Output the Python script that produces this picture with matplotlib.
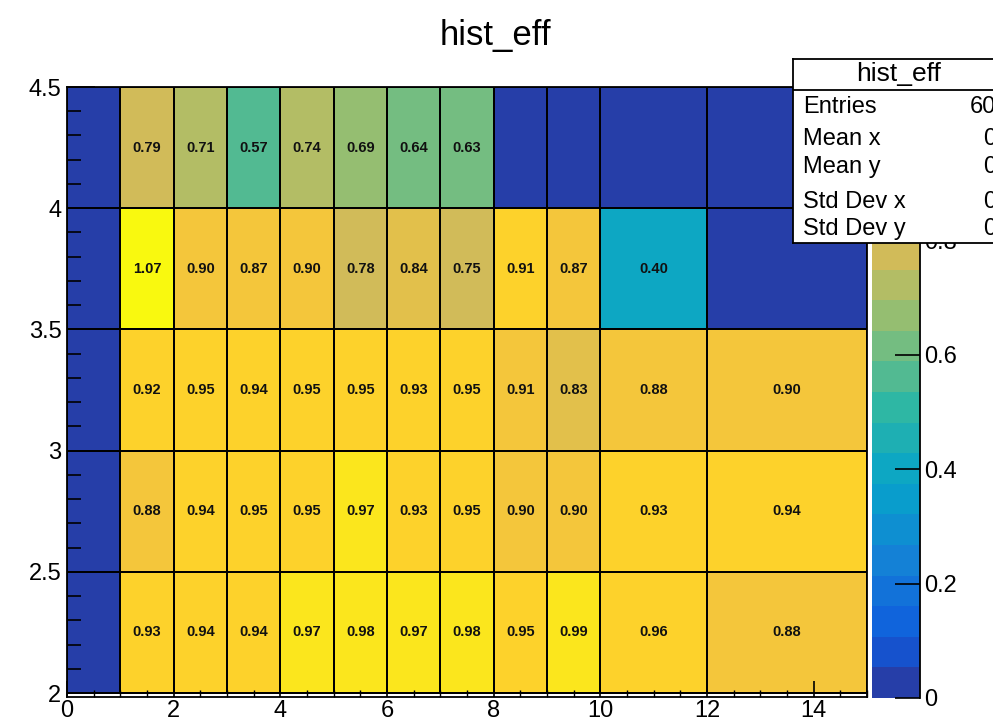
import numpy as np
import matplotlib
matplotlib.use("Agg")
import matplotlib.pyplot as plt
from matplotlib.colors import ListedColormap, BoundaryNorm
from matplotlib.ticker import MultipleLocator, FixedLocator

plt.rcParams['font.family'] = ['Liberation Sans', 'DejaVu Sans']

# ---- histogram contents -------------------------------------------------
x_edges = [0, 1, 2, 3, 4, 5, 6, 7, 8, 9, 10, 12, 15]
y_edges = [2.0, 2.5, 3.0, 3.5, 4.0, 4.5]

row_2p0 = [0, 0.93, 0.94, 0.94, 0.97, 0.98, 0.97, 0.98, 0.95, 0.99, 0.96, 0.88]
row_2p5 = [0, 0.88, 0.94, 0.95, 0.95, 0.97, 0.93, 0.95, 0.90, 0.90, 0.93, 0.94]
row_3p0 = [0, 0.92, 0.95, 0.94, 0.95, 0.95, 0.93, 0.95, 0.906, 0.83, 0.88, 0.90]
row_3p5 = [0, 1.07, 0.90, 0.87, 0.90, 0.78, 0.84, 0.75, 0.913, 0.87, 0.40, 0]
row_4p0 = [0, 0.79, 0.71, 0.57, 0.74, 0.69, 0.64, 0.63, 0, 0, 0, 0]

x_ticks = [0, 2, 4, 6, 8, 10, 12, 14]
y_ticks = [2, 2.5, 3, 3.5, 4, 4.5]
z_ticks = [0, 0.2, 0.4, 0.6, 0.8, 1.0]

stats_title = "hist_eff"
stats_names = ["Entries", "Mean x", "Mean y", "Std Dev x", "Std Dev y"]
stats_values = ["60", "0", "0", "0", "0"]

z = np.array([row_2p0, row_2p5, row_3p0, row_3p5, row_4p0])

# ---- ROOT "bird" palette, 255 colours, 20 contour levels -----------------
stops = [0.0000, 0.1250, 0.2500, 0.3750, 0.5000, 0.6250, 0.7500, 0.8750, 1.0000]
red = [0.2082, 0.0592, 0.0780, 0.0232, 0.1802, 0.5301, 0.8186, 0.9956, 0.9764]
green = [0.1664, 0.3599, 0.5041, 0.6419, 0.7178, 0.7492, 0.7328, 0.7862, 0.9832]
blue = [0.5293, 0.8684, 0.8385, 0.7914, 0.6425, 0.4662, 0.3499, 0.1968, 0.0539]

ncol = 255
palette = []
for i in range(1, len(stops)):
    n = int(np.floor(ncol * stops[i]) - np.floor(ncol * stops[i - 1]))
    for c in range(n):
        f = c / n
        palette.append((red[i - 1] + f * (red[i] - red[i - 1]),
                        green[i - 1] + f * (green[i] - green[i - 1]),
                        blue[i - 1] + f * (blue[i] - blue[i - 1])))

ndiv = 20
level_colors = [palette[min(int((k + 0.99) * ncol / ndiv), ncol - 1)] for k in range(ndiv)]
zmax = z.max()
cmap = ListedColormap(level_colors)
norm = BoundaryNorm(np.linspace(0, zmax, ndiv + 1), ndiv, clip=True)

# ---- figure --------------------------------------------------------------
W, H = 993, 726
fig = plt.figure(figsize=(W / 100, H / 100), dpi=100)


def fx(px):
    return px / W


def fy(py):
    return 1 - py / H


ax_left, ax_right, ax_top, ax_bottom = 67, 867, 87, 697
ax = fig.add_axes([fx(ax_left), fy(ax_bottom), fx(ax_right - ax_left), (ax_bottom - ax_top) / H])

ppu_y = (693 - ax_top) / (y_edges[-1] - y_edges[0])
ax.set_xlim(x_edges[0], x_edges[-1])
ax.set_ylim(y_edges[0] - (ax_bottom - 693) / ppu_y, y_edges[-1])

ax.pcolormesh(x_edges, y_edges, z, cmap=cmap, norm=norm,
              edgecolors='black', linewidth=1.3)

xc = 0.5 * (np.array(x_edges[:-1]) + np.array(x_edges[1:]))
yc = 0.5 * (np.array(y_edges[:-1]) + np.array(y_edges[1:]))
for j, yv in enumerate(yc):
    for i, xv in enumerate(xc):
        v = z[j, i]
        if v != 0:
            ax.text(xv, yv, f"{v:.2f}", ha='center', va='center',
                    fontsize=10.5, fontweight='bold', color='#111111')

for s in ax.spines.values():
    s.set_linewidth(1.3)
    s.set_color('black')

ax.xaxis.set_major_locator(FixedLocator(x_ticks))
ax.xaxis.set_minor_locator(MultipleLocator(0.5))
ax.yaxis.set_major_locator(FixedLocator(y_ticks))
ax.yaxis.set_minor_locator(MultipleLocator(0.1))
ax.set_yticklabels([f"{t:g}" for t in y_ticks])
ax.set_xticklabels([f"{t:g}" for t in x_ticks])
ax.tick_params(axis='x', which='major', direction='in', length=11.5, width=1.2,
               labelsize=17, pad=2, top=False)
ax.tick_params(axis='x', which='minor', direction='in', length=5, width=1.0, top=False)
ax.tick_params(axis='y', which='major', direction='in', length=20, width=1.2,
               labelsize=17, pad=4, right=False)
ax.tick_params(axis='y', which='minor', direction='in', length=10, width=1.2, right=False)

# ---- colour bar ------------------------------------------------------------
cax = fig.add_axes([fx(872), fy(698), fx(920 - 872), (698 - 86) / H])
sm = matplotlib.cm.ScalarMappable(norm=norm, cmap=cmap)
cb = fig.colorbar(sm, cax=cax, spacing='proportional')
cb.outline.set_visible(False)
cb.set_ticks(z_ticks)
cb.set_ticklabels([f"{t:g}" for t in z_ticks])
cax.yaxis.set_minor_locator(FixedLocator([]))
cax.tick_params(axis='y', which='major', direction='in', length=18, width=1.2,
                labelsize=17, pad=3, right=True, left=False)
cax.plot([1, 1], [0, 1], transform=cax.transAxes, color='black', lw=1.3, clip_on=False)

# ---- statistics box ----------------------------------------------------------
box_l, box_t, box_b = 793, 59, 243
sax = fig.add_axes([fx(box_l), fy(box_b), fx(1010 - box_l), (box_b - box_t) / H], zorder=10)
sax.set_xticks([])
sax.set_yticks([])
sax.set_facecolor('white')
for s in sax.spines.values():
    s.set_linewidth(1.3)
    s.set_color('black')
sax.plot([0, 1], [(box_b - 90) / (box_b - box_t)] * 2, transform=sax.transAxes,
         color='black', lw=1.3)
sax.text(fx(899), fy(81), stats_title, transform=fig.transFigure, ha='center',
         va='baseline', fontsize=19)
baselines = [113, 145, 173, 208, 235]
for name, val, b in zip(stats_names, stats_values, baselines):
    sax.text(fx(803), fy(b), name, transform=fig.transFigure, ha='left',
             va='baseline', fontsize=17)
    sax.text(fx(996), fy(b), val, transform=fig.transFigure, ha='right',
             va='baseline', fontsize=17)

# ---- title -------------------------------------------------------------------
fig.text(fx(495), fy(45), "hist_eff", ha='center', va='baseline', fontsize=25)

fig.savefig("out.png", dpi=100)
